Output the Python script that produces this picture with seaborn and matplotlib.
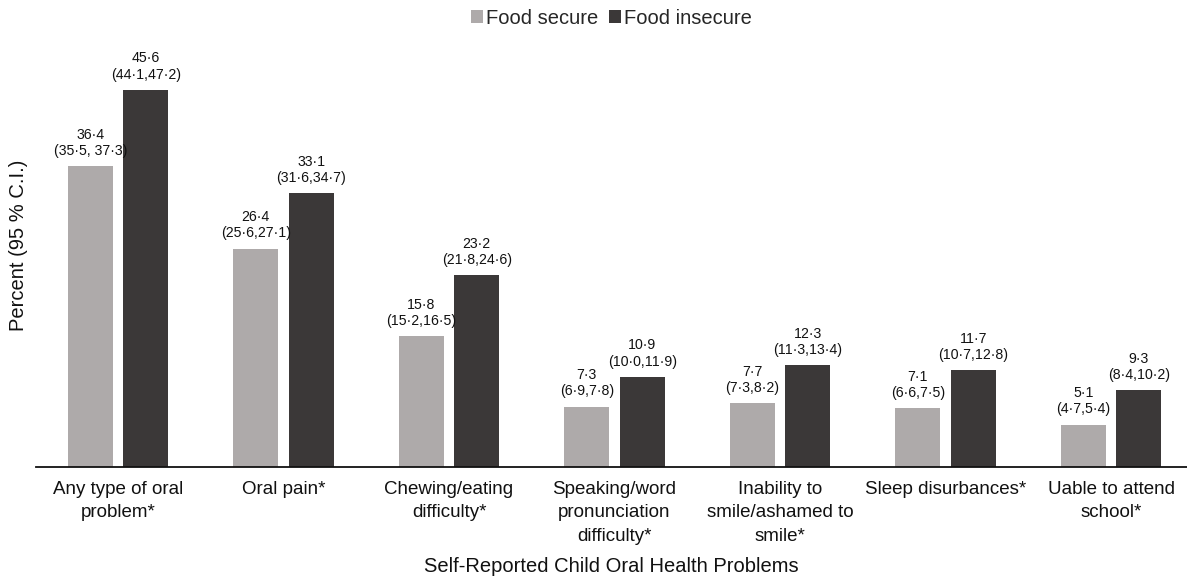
import matplotlib
matplotlib.use("Agg")
import matplotlib.pyplot as plt
import seaborn as sns
import pandas as pd

# Self-reported child oral health problems by household food security
problems = [
    "Any type of oral\nproblem*",
    "Oral pain*",
    "Chewing/eating\ndifficulty*",
    "Speaking/word\npronunciation\ndifficulty*",
    "Inability to\nsmile/ashamed to\nsmile*",
    "Sleep disurbances*",
    "Uable to attend\nschool*",
]
groups = ["Food secure", "Food insecure"]

secure_pct = [36.4, 26.4, 15.8, 7.3, 7.7, 7.1, 5.1]
secure_lo = [35.5, 25.6, 15.2, 6.9, 7.3, 6.6, 4.7]
secure_hi = [37.3, 27.1, 16.5, 7.8, 8.2, 7.5, 5.4]

insecure_pct = [45.6, 33.1, 23.2, 10.9, 12.3, 11.7, 9.3]
insecure_lo = [44.1, 31.6, 21.8, 10.0, 11.3, 10.7, 8.4]
insecure_hi = [47.2, 34.7, 24.6, 11.9, 13.4, 12.8, 10.2]

colors = ["#AEAAAA", "#3B3838"]


def fmt(v):
    return f"{v:.1f}".replace(".", "\u00b7")


df = pd.DataFrame({
    "problem": problems * 2,
    "status": [groups[0]] * len(problems) + [groups[1]] * len(problems),
    "percent": secure_pct + insecure_pct,
})

sns.set_style("white")
plt.rcParams["font.family"] = ["Liberation Sans", "DejaVu Sans"]

fig = plt.figure(figsize=(11.87, 5.79), dpi=100)
ax = fig.add_axes([36 / 1187, 1 - 467 / 579, 1 - 36 / 1187, (467 - 23) / 579])

sns.barplot(data=df, x="problem", y="percent", hue="status",
            order=problems, hue_order=groups, palette=colors,
            width=0.67, gap=0.19, errorbar=None, saturation=1,
            linewidth=0, ax=ax)

ax.set_xlim(-0.4955, 6.459)
ax.set_ylim(0, 53.7)

# value and confidence-interval labels above each bar
label_sets = [
    [f"{fmt(p)}\n({fmt(lo)}, {fmt(hi)})" if i == 0 else f"{fmt(p)}\n({fmt(lo)},{fmt(hi)})"
     for i, (p, lo, hi) in enumerate(zip(secure_pct, secure_lo, secure_hi))],
    [f"{fmt(p)}\n({fmt(lo)},{fmt(hi)})"
     for p, lo, hi in zip(insecure_pct, insecure_lo, insecure_hi)],
]
for container, labels in zip(ax.containers, label_sets):
    ax.bar_label(container, labels=labels, padding=6, fontsize=10.2,
                 color="#111111", linespacing=1.2)

for s in ["top", "right", "left"]:
    ax.spines[s].set_visible(False)
ax.spines["bottom"].set_color("#111111")
ax.spines["bottom"].set_linewidth(1.3)

ax.set_yticks([])
ax.set_xticks(range(len(problems)), labels=problems, linespacing=1.5)
ax.tick_params(axis="x", length=0, pad=10, labelsize=13.5, colors="#111111")

ax.set_ylabel("Percent (95 % C.I.)", fontsize=14.5, color="#111111", labelpad=6)
ax.set_xlabel("Self-Reported Child Oral Health Problems", fontsize=14.5,
              color="#111111", labelpad=9)

handles, lbls = ax.get_legend_handles_labels()
ax.legend(handles, lbls, loc="center", bbox_to_anchor=(0.5, 1.011), ncol=2,
          frameon=False, fontsize=14.5, handlelength=0.6, handleheight=0.6,
          handletextpad=0.15, columnspacing=0.55, borderpad=0)

fig.savefig("out.png", dpi=100)
